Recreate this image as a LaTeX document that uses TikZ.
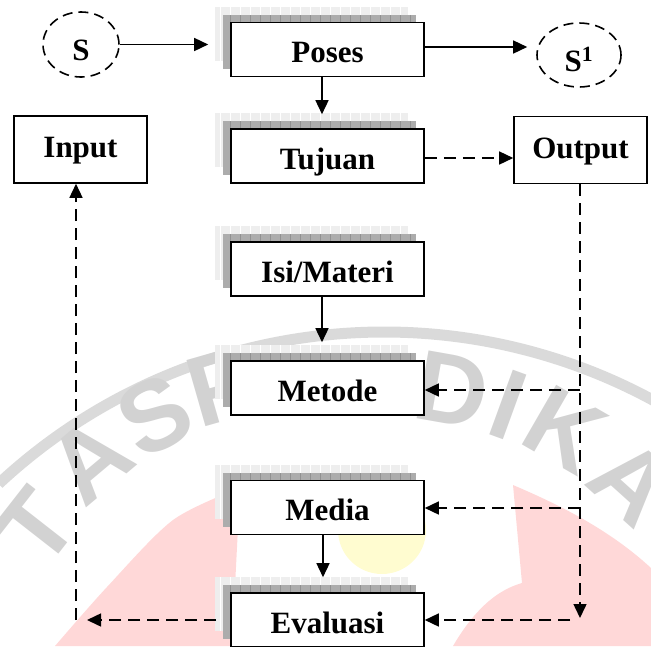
\documentclass[tikz,border=0pt]{standalone}
\usepackage{fontspec}
\setmainfont{Liberation Serif}
\newfontfamily\wmfont{Liberation Sans}
\usetikzlibrary{arrows.meta,shapes.geometric,calc}
\definecolor{wmpink}{RGB}{255,216,216}
\definecolor{wmyellow}{RGB}{255,252,208}
\definecolor{wmband}{RGB}{218,218,218}
\definecolor{wmtext}{RGB}{210,210,210}
\definecolor{shdark}{RGB}{172,172,172}
\definecolor{shdarkline}{RGB}{145,145,145}
\definecolor{shlight}{RGB}{238,238,238}
\newcommand\shadowpair[2]{%
  \begin{scope}
    \clip (#1-112.5,#2-43) rectangle (#1+80.5,#2+11);
    \fill[shlight] (#1-112.5,#2-43) rectangle (#1+80.5,#2+11);
    \draw[white,line width=0.7pt,step=10] (#1-112.5,#2-43) grid (#1+80.5,#2+11);
  \end{scope}
  \begin{scope}
    \clip (#1-104.5,#2-35) rectangle (#1+88.5,#2+19);
    \fill[shdark] (#1-104.5,#2-35) rectangle (#1+88.5,#2+19);
    \draw[shdarkline,line width=0.6pt,step=10] (#1-104.5,#2-35) grid (#1+88.5,#2+19);
  \end{scope}}
\begin{document}
\begin{tikzpicture}[x=1pt,y=-1pt,
  cbox/.style={draw,line width=1.6pt,fill=white,minimum width=193pt,minimum height=54pt,
    inner sep=0pt,font=\bfseries\fontsize{31}{31}\selectfont,text height=26pt,text depth=0pt},
  sbox/.style={draw,line width=1.6pt,fill=white,minimum width=133pt,minimum height=67pt,
    inner sep=0pt,font=\bfseries\fontsize{31}{31}\selectfont,text height=16pt,text depth=0pt},
  ell/.style={ellipse,draw,line width=1.6pt,dash pattern=on 10pt off 6pt,inner sep=0pt,
    font=\bfseries\fontsize{31}{31}\selectfont,text height=32pt,text depth=0pt},
  arr/.style={line width=1.5pt,-{Triangle[length=14pt,width=13pt]}},
  darr/.style={arr,dash pattern=on 12pt off 7pt},
  wml/.style={inner sep=0pt,text=wmtext,font=\wmfont\bfseries\fontsize{100}{100}\selectfont,text depth=0pt}]
\useasboundingbox (0,0) rectangle (651,646);
% ---------- watermark ----------
\fill[wmpink] plot[smooth] coordinates {(55,646) (107,587) (173,520) (240,488)} -- (232,646) -- cycle;
\fill[wmpink] (453,646) .. controls (480,600) and (505,588) .. (522,583) -- (513,485)
  .. controls (560,505) and (610,530) .. (651,568) -- (651,646) -- cycle;
\fill[wmyellow] (382,530) circle[radius=44];
\draw[wmband,line width=11pt] (384,897) ++(227:565) arc[start angle=227,end angle=299,radius=565];
\node[wml,rotate=52] (w1) at (36,527) {T};
\node[wml,rotate=40] (w2) at (90,460) {A};
\node[wml,rotate=28] (w3) at (155,415) {S};
\node[wml,rotate=16] (w4) at (222,386) {P};
\node[wml,rotate=-10] (w5) at (452,390) {D};
\node[wml,rotate=-20] (w6) at (508,405) {I};
\node[wml,rotate=-30] (w7) at (565,430) {K};
\node[wml,rotate=-42] (w8) at (632,482) {A};
% ---------- boxes ----------
\foreach \cy in {49.5,156,269,388,507.5,620} {\shadowpair{327.5}{\cy}}
\node[cbox] (poses) at (327.5,49.5) {Poses};
\node[cbox] (tujuan) at (327.5,156) {Tujuan};
\node[cbox] (isi) at (327.5,269) {Isi/Materi};
\node[cbox] (metode) at (327.5,388) {Metode};
\node[cbox] (media) at (327.5,507.5) {Media};
\node[cbox] (evaluasi) at (327.5,620) {Evaluasi};
\node[sbox] (input) at (80.5,149.5) {Input};
\node[sbox] (output) at (580.5,150) {Output};
\node[ell,minimum width=76pt,minimum height=65pt] (s) at (81,44.5) {S};
\node[ell,minimum width=84pt,minimum height=64pt] (s1) at (579,55) {S\textsuperscript{1}};
% ---------- connectors ----------
\draw[arr] (s.east) -- ($(s.east -| poses.west)+(-22,0)$);
\coordinate (a1) at ($(poses.east)+(0,-2.5)$);
\draw[arr,shorten >=9pt] (a1) -- (a1 -| s1.west);
\coordinate (a2) at ($(poses.south)+(-5.5,0)$);
\draw[arr,shorten >=14pt] (a2) -- (a2 |- tujuan.north);
\coordinate (a3) at ($(tujuan.east)+(0,2)$);
\draw[darr] (a3) -- (a3 -| output.west);
\coordinate (a4) at ($(isi.south)+(-5.5,0)$);
\draw[arr,shorten >=18pt] (a4) -- (a4 |- metode.north);
\coordinate (a5) at ($(media.south)+(-4.5,0)$);
\draw[arr,shorten >=15pt] (a5) -- (a5 |- evaluasi.north);
\coordinate (a6) at ($(output.south)+(-0.5,0)$);
\draw[darr] (a6) -- ($(a6 |- evaluasi.east)+(0,-2)$);
\coordinate (a7) at ($(metode.east)+(0,2)$);
\draw[darr] (a7 -| a6) -- (a7);
\coordinate (a8) at ($(media.east)+(0,0.5)$);
\draw[darr] (a8 -| a6) -- (a8);
\draw[darr] ($(evaluasi.east -| a6)+(-10,0)$) -- (evaluasi.east);
\coordinate (a9) at ($(input.south |- evaluasi.west)+(-4.5,0)$);
\draw[darr] ($(evaluasi.west)+(-14,0)$) -- ($(a9)+(11,0)$);
\draw[darr] (a9) -- (a9 |- input.south);
\end{tikzpicture}
\end{document}
